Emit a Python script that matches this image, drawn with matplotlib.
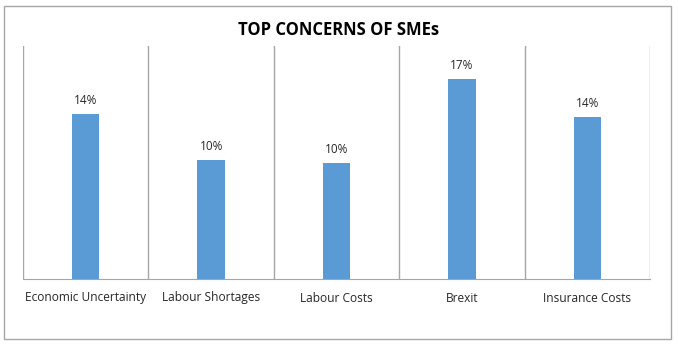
import numpy as np

import matplotlib
matplotlib.use('agg')

from matplotlib import pyplot as plt
from matplotlib.patches import Rectangle

categories = ["Economic Uncertainty", "Labour Shortages", "Labour Costs", "Brexit", "Insurance Costs"]
values = [14.2, 10.2, 10.0, 17.2, 13.9]
labels = ["14%", "10%", "10%", "17%", "14%"]

plt.rcParams['font.family'] = ['Open Sans', 'DejaVu Sans']

fig = plt.figure(figsize=(6.78, 3.45), dpi=100)
ax = fig.add_axes([23 / 678, 1 - 279 / 345, 627 / 678, 233 / 345])

x = np.arange(len(categories))
ax.bar(x, values, width=0.22, color="#5B9BD5", zorder=3)

for xi, v, lab in zip(x, values, labels):
    ax.annotate(lab, (xi, v), xytext=(0, 5), textcoords="offset points",
                ha="center", va="bottom", fontsize=8.5, color="#262626")

ax.set_xlim(-0.5, len(categories) - 0.5)
ax.set_ylim(0, 20)
for b in np.arange(-0.5, len(categories), 1):
    ax.axvline(b, color="#a6a6a6", linewidth=1, zorder=1)

ax.set_xticks(x)
ax.set_xticklabels(categories, fontsize=8.6, color="#262626")
ax.tick_params(axis="x", length=0, pad=9)
ax.set_yticks([])
for s in ["top", "left", "right"]:
    ax.spines[s].set_visible(False)
ax.spines["bottom"].set_color("#a6a6a6")

fig.text(339 / 678, 1 - 30 / 345, "TOP CONCERNS OF SMEs", ha="center", va="center",
         fontsize=12, fontweight="bold", color="black")

fig.patches.append(Rectangle((4 / 678, 1 - 339 / 345), 667 / 678, 333 / 345,
                             transform=fig.transFigure, fill=False,
                             edgecolor="#a6a6a6", linewidth=1))

plt.savefig("out.png", dpi=100)
